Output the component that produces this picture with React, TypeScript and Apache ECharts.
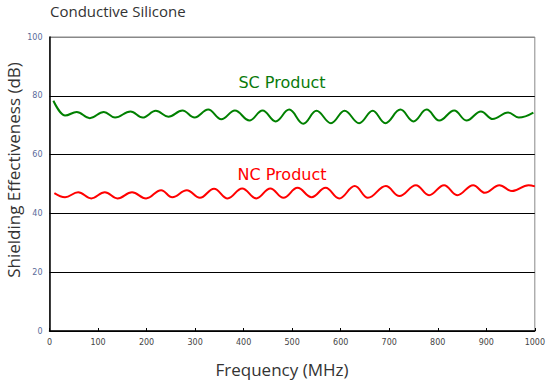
import React, { useEffect, useRef } from "react";
import * as echarts from "echarts";

const scFreq = [8, 32, 56, 83, 112, 135, 167, 192, 219, 245, 274, 299, 327, 354, 382, 412, 439, 466, 494, 523, 550, 580, 608, 638, 666, 692, 723, 750, 777, 803, 834, 859, 889, 913, 945, 967, 997];
const scValues = [78.3, 73.3, 74.5, 72.4, 74.5, 72.6, 74.7, 72.6, 74.9, 72.9, 75.0, 72.6, 75.3, 72.0, 75.0, 71.6, 75.0, 71.3, 75.3, 70.5, 74.9, 70.7, 74.9, 70.7, 74.9, 70.7, 75.3, 71.3, 75.3, 71.6, 75.0, 71.6, 74.7, 72.1, 74.3, 72.6, 74.3];

const ncFreq = [10, 32, 59, 86, 114, 140, 170, 199, 230, 253, 283, 310, 339, 367, 397, 426, 455, 482, 511, 540, 569, 597, 629, 656, 693, 721, 755, 782, 813, 840, 873, 897, 927, 953, 987, 1000];
const ncValues = [46.9, 45.5, 47.2, 45.1, 47.2, 45.1, 47.2, 45.1, 47.9, 45.5, 47.9, 45.3, 48.4, 45.1, 48.5, 45.1, 48.5, 45.3, 48.7, 45.5, 48.7, 45.1, 49.3, 45.3, 49.3, 45.9, 49.6, 46.2, 49.6, 46.2, 49.6, 47.0, 49.6, 47.6, 49.6, 49.2];

const xTicks = [0, 100, 200, 300, 400, 500, 600, 700, 800, 900, 1000];
const yTicks = [0, 20, 40, 60, 80, 100];

const titleText = "Conductive Silicone";
const xName = "Frequency (MHz)";
const yName = "Shielding Effectiveness (dB)";
const scLabel = "SC Product";
const ncLabel = "NC Product";

export default function App() {
  const ref = useRef<HTMLDivElement>(null);
  useEffect(() => {
    const chart = echarts.init(ref.current!, null, { renderer: "svg" });
    const font = "'Open Sans', 'DejaVu Sans', sans-serif";
    chart.setOption({
      animation: false,
      backgroundColor: "#fff",
      grid: {
        left: 49.5,
        right: 10.5,
        top: 37,
        bottom: 52,
        show: true,
        borderColor: "#888",
        borderWidth: 1,
      },
      xAxis: {
        type: "value",
        min: xTicks[0],
        max: xTicks[xTicks.length - 1],
        interval: 100,
        axisLine: { lineStyle: { color: "#000", width: 1.5 } },
        axisTick: { inside: true, length: 3, lineStyle: { color: "#000" } },
        axisLabel: { fontSize: 8, color: "#444", margin: 7, fontFamily: "DejaVu Sans", formatter: (v: number) => String(v) },
        splitLine: { show: false },
      },
      yAxis: {
        type: "value",
        min: yTicks[0],
        max: yTicks[yTicks.length - 1],
        interval: 20,
        axisLine: { show: true, lineStyle: { color: "#000", width: 1.5 } },
        axisTick: { show: false },
        axisLabel: { fontSize: 8, color: "#5a6a9a", margin: 7, fontFamily: "DejaVu Sans" },
        splitLine: {
          show: true,
          lineStyle: { color: ["#000", "#000", "#000", "#000", "#000", "#888"], width: 1 },
        },
      },
      graphic: [
        {
          type: "text",
          x: 50,
          y: 11,
          style: { text: titleText, fontSize: 15, fill: "#333", fontFamily: font, align: "left", verticalAlign: "middle" },
        },
        {
          type: "text",
          x: 282,
          y: 369,
          style: { text: xName, fontSize: 17, fill: "#333", fontFamily: font, align: "center", verticalAlign: "middle" },
        },
        {
          type: "text",
          x: 13,
          y: 170,
          rotation: Math.PI / 2,
          style: { text: yName, fontSize: 17, fill: "#333", fontFamily: font, align: "center", verticalAlign: "middle" },
        },
        {
          type: "text",
          x: 282,
          y: 82,
          style: { text: scLabel, fontSize: 16, fill: "#0a7a0a", fontFamily: "DejaVu Sans", align: "center", verticalAlign: "middle" },
        },
        {
          type: "text",
          x: 282,
          y: 174,
          style: { text: ncLabel, fontSize: 16, fill: "#ff0000", fontFamily: "DejaVu Sans", align: "center", verticalAlign: "middle" },
        },
      ],
      series: [
        {
          type: "line",
          name: scLabel,
          data: scFreq.map((f, i) => [f, scValues[i]]),
          smooth: 0.4,
          smoothMonotone: "x",
          showSymbol: false,
          lineStyle: { color: "#008000", width: 2 },
        },
        {
          type: "line",
          name: ncLabel,
          data: ncFreq.map((f, i) => [f, ncValues[i]]),
          smooth: 0.4,
          smoothMonotone: "x",
          showSymbol: false,
          lineStyle: { color: "#ff0000", width: 2 },
        },
      ],
    });
    return () => chart.dispose();
  }, []);
  return <div ref={ref} style={{ width: 548, height: 383, position: "absolute", left: 0, top: 0 }} />;
}
